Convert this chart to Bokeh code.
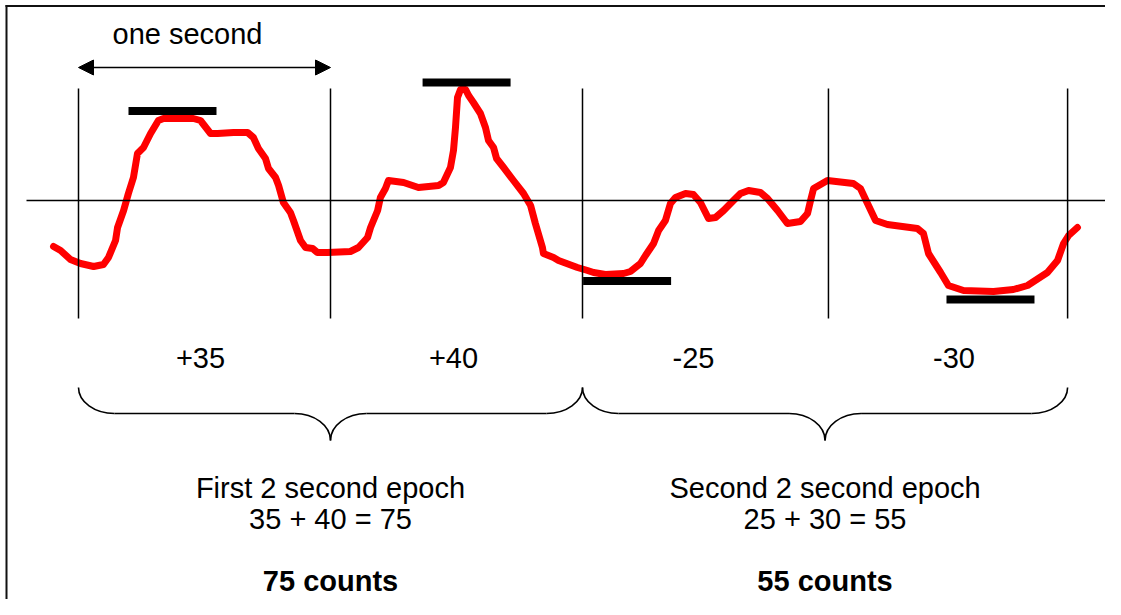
import numpy as np
from bokeh.plotting import figure
from bokeh.models import Range1d, Arrow, NormalHead, ColumnDataSource
from bokeh.core.properties import value
from bokeh.embed import file_html
from bokeh.resources import INLINE

# ---------------- data (time in seconds, amplitude in arbitrary units) ----------------
time_s = [-0.099, -0.071, -0.032, 0.008, 0.060, 0.099, 0.119, 0.147, 0.155, 0.179,
          0.198, 0.218, 0.234, 0.258, 0.286, 0.317, 0.337, 0.456, 0.484, 0.524,
          0.552, 0.615, 0.671, 0.694, 0.714, 0.742, 0.754, 0.782, 0.794, 0.813,
          0.841, 0.853, 0.881, 0.901, 0.929, 0.948, 0.988, 1.079, 1.111, 1.147,
          1.159, 1.187, 1.198, 1.218, 1.230, 1.290, 1.349, 1.429, 1.448, 1.476,
          1.488, 1.496, 1.504, 1.516, 1.536, 1.548, 1.567, 1.595, 1.615, 1.627,
          1.647, 1.659, 1.687, 1.726, 1.766, 1.794, 1.813, 1.841, 1.845, 1.885,
          1.905, 1.980, 2.020, 2.044, 2.091, 2.163, 2.190, 2.230, 2.250, 2.282,
          2.302, 2.329, 2.349, 2.369, 2.409, 2.440, 2.468, 2.480, 2.500, 2.528,
          2.560, 2.599, 2.627, 2.659, 2.706, 2.734, 2.774, 2.813, 2.865, 2.893,
          2.905, 2.917, 2.972, 3.075, 3.103, 3.131, 3.163, 3.210, 3.329, 3.353,
          3.373, 3.421, 3.452, 3.512, 3.631, 3.710, 3.766, 3.845, 3.885, 3.909,
          3.929, 3.964]
amplitude = [-46, -50, -59, -63, -66, -64, -57, -40, -27, -10,
             7, 23, 47, 53, 67, 80, 82, 82, 80, 67,
             67, 68, 68, 63, 52, 42, 32, 23, 15, -2,
             -12, -20, -40, -47, -48, -52, -52, -51, -47, -37,
             -27, -10, 3, 12, 20, 18, 13, 15, 18, 33,
             50, 73, 103, 111, 111, 105, 98, 87, 73, 60,
             53, 42, 33, 20, 7, -5, -23, -47, -53, -57,
             -60, -67, -70, -72, -74, -73, -71, -63, -55, -43,
             -30, -20, -3, 3, 7, 6, -2, -8, -18, -17,
             -10, 0, 7, 10, 8, 2, -10, -23, -21, -13,
             0, 12, 20, 17, 12, -3, -20, -24, -28, -33,
             -53, -72, -85, -90, -91, -89, -85, -72, -60, -43,
             -35, -27]

second_marks = [0.0, 1.0, 2.0, 2.976, 3.925]          # drawn one-second boundaries
peak_time = [0.373, 1.540, 2.177, 3.619]              # where each second's extreme sits
peak_level = [89.5, 118.0, -80.5, -99.0]              # level of each extreme marker
second_labels = ["+35", "+40", "-25", "-30"]
epoch_titles = ["First 2 second epoch", "Second 2 second epoch"]
epoch_sums = ["35 + 40 = 75", "25 + 30 = 55"]
epoch_counts = ["75 counts", "55 counts"]
scale_label = "one second"

# ---------------- layout / style constants ----------------
PX_PER_S = 252.0
W, H = 1105, 599
X0 = -78 / PX_PER_S
X1 = X0 + W / PX_PER_S
Y_TOP = 200.0
Y_BOT = Y_TOP - H
FONT = value("Liberation Sans")
FS = value("29px")
TXT_LIFT = 10  # texts render slightly low; lift their baselines

p = figure(width=W, height=H, x_range=Range1d(X0, X1), y_range=Range1d(Y_BOT, Y_TOP),
           output_backend="svg", toolbar_location=None, min_border=0,
           x_axis_location=None, y_axis_location=None, outline_line_color=None,
           background_fill_color="white", border_fill_color="white")
p.grid.grid_line_color = None

# frame (left and top edges)
fx = X0 + 6 / PX_PER_S
fy = Y_TOP - 5.5
p.segment(x0=[fx, X0 + 5 / PX_PER_S], y0=[fy + 1, fy], x1=[fx, X1], y1=[Y_BOT, fy],
          line_color="#111111", line_width=2)

# signal
p.line(time_s, amplitude, line_color="#ff0000", line_width=7, line_join="round", line_cap="round")

# zero line and one-second boundaries
p.segment(x0=[X0 + 26 / PX_PER_S], y0=[0], x1=[X1], y1=[0], line_color="black", line_width=1.5)
p.segment(x0=second_marks, y0=[112] * len(second_marks), x1=second_marks,
          y1=[-118] * len(second_marks), line_color="black", line_width=1.5)

# extreme markers
half = 44 / PX_PER_S
p.segment(x0=[t - half for t in peak_time], y0=peak_level,
          x1=[t + half for t in peak_time], y1=peak_level,
          line_color="black", line_width=8, line_cap="butt")

# one-second arrow
p.add_layout(Arrow(start=NormalHead(size=15, fill_color="black", line_color="black", line_width=1),
                   end=NormalHead(size=15, fill_color="black", line_color="black", line_width=1),
                   x_start=second_marks[0], y_start=133, x_end=second_marks[1], y_end=133,
                   line_color="black", line_width=1.5))
p.text(x=[(second_marks[0] + second_marks[1]) / 2], y=[157 + TXT_LIFT], text=[scale_label],
       x_offset=-17, text_font=FONT, text_font_size=FS, text_align="center",
       text_baseline="alphabetic", text_color="black")

# per-second labels
mids = [(a + b) / 2 for a, b in zip(second_marks[:-1], second_marks[1:])]
nudge = [-4, -3, -12, 6]
src = ColumnDataSource(dict(x=mids, y=[-167 + TXT_LIFT] * 4, t=second_labels, dx=nudge))
p.text(x="x", y="y", text="t", x_offset="dx", source=src, text_font=FONT, text_font_size=FS,
       text_align="center", text_baseline="alphabetic", text_color="black")

# braces
k = 0.5523
w = 36 / PX_PER_S
top, mid, tip = -187.0, -213.0, -240.0
epochs = [(second_marks[0], second_marks[2]), (second_marks[2], second_marks[4])]
bx0, by0, bx1, by1, bcx0, bcy0, bcx1, bcy1 = ([] for _ in range(8))
lx0, lx1 = [], []
tips = []
for xa, xb in epochs:
    xm = (xa + xb) / 2
    tips.append(xm)
    curves = [
        ((xa, top), (xa + w, mid), (xa, top + k * (mid - top)), (xa + w - k * w, mid)),
        ((xm - w, mid), (xm, tip), (xm - w + k * w, mid), (xm, tip - k * (tip - mid))),
        ((xm, tip), (xm + w, mid), (xm, tip - k * (tip - mid)), (xm + w - k * w, mid)),
        ((xb - w, mid), (xb, top), (xb - w + k * w, mid), (xb, top + k * (mid - top))),
    ]
    for s, e, c0, c1 in curves:
        bx0.append(s[0]); by0.append(s[1]); bx1.append(e[0]); by1.append(e[1])
        bcx0.append(c0[0]); bcy0.append(c0[1]); bcx1.append(c1[0]); bcy1.append(c1[1])
    lx0 += [xa + w, xm + w]
    lx1 += [xm - w, xb - w]
p.bezier(x0=bx0, y0=by0, x1=bx1, y1=by1, cx0=bcx0, cy0=bcy0, cx1=bcx1, cy1=bcy1,
         line_color="black", line_width=1.6)
p.segment(x0=lx0, y0=[mid] * len(lx0), x1=lx1, y1=[mid] * len(lx1), line_color="black", line_width=1.6)

# epoch texts
p.text(x=tips, y=[-297 + TXT_LIFT] * 2, text=epoch_titles, text_font=FONT, text_font_size=FS,
       text_align="center", text_baseline="alphabetic", text_color="black")
p.text(x=tips, y=[-328 + TXT_LIFT] * 2, text=epoch_sums, text_font=FONT, text_font_size=FS,
       text_align="center", text_baseline="alphabetic", text_color="black")
p.text(x=tips, y=[-390 + TXT_LIFT] * 2, text=epoch_counts, text_font=FONT, text_font_size=FS,
       text_font_style="bold", text_align="center", text_baseline="alphabetic", text_color="black")

open("out.html", "w").write(file_html(p, INLINE))
